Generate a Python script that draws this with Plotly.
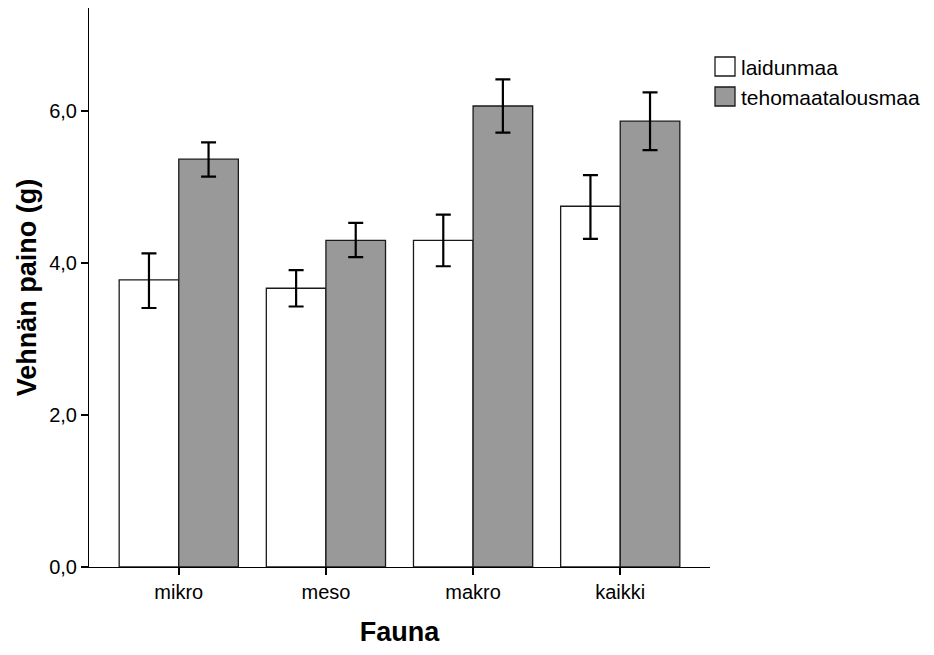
import plotly.graph_objects as go

categories = ["mikro", "meso", "makro", "kaikki"]
series_names = ["laidunmaa", "tehomaatalousmaa"]
laidunmaa = [3.78, 3.67, 4.30, 4.75]
laidunmaa_upper = [4.13, 3.91, 4.64, 5.16]
laidunmaa_lower = [3.41, 3.43, 3.96, 4.32]
tehomaa = [5.37, 4.30, 6.07, 5.87]
tehomaa_upper = [5.59, 4.53, 6.42, 6.25]
tehomaa_lower = [5.14, 4.08, 5.72, 5.49]
y_ticks = [0, 2, 4, 6]

FONT = "Arial, Liberation Sans, sans-serif"
colors = ["#ffffff", "#999999"]

fig = go.Figure()
for name, vals, up, lo, col in [
    (series_names[0], laidunmaa, laidunmaa_upper, laidunmaa_lower, colors[0]),
    (series_names[1], tehomaa, tehomaa_upper, tehomaa_lower, colors[1]),
]:
    fig.add_trace(go.Bar(
        x=categories, y=vals, name=name,
        marker=dict(color=col, line=dict(color="#1a1a1a", width=1.3)),
        error_y=dict(type="data", symmetric=False,
                     array=[u - v for u, v in zip(up, vals)],
                     arrayminus=[v - l for v, l in zip(vals, lo)],
                     color="black", thickness=2.2, width=7.5),
        showlegend=False,
    ))

# manual legend (plot area spans page x 89..710, y 8..567)
PX0, PW, PY1, PH = 89, 621, 567, 559
leg_items = [(series_names[0], colors[0], 57), (series_names[1], colors[1], 87)]
for name, col, top in leg_items:
    fig.add_shape(type="rect", xref="paper", yref="paper",
                  x0=(715 - PX0) / PW, x1=(735 - PX0) / PW,
                  y0=(PY1 - top) / PH, y1=(PY1 - (top + 19)) / PH,
                  fillcolor=col, line=dict(color="#1a1a1a", width=1.3))
    fig.add_annotation(text=name, xref="paper", yref="paper",
                       x=(739 - PX0) / PW, y=(PY1 - (top + 10)) / PH,
                       xanchor="left", yanchor="middle", showarrow=False,
                       font=dict(family=FONT, size=21, color="black"))

fig.update_layout(
    width=934, height=655,
    margin=dict(l=81, r=232, t=0, b=96),
    plot_bgcolor="white", paper_bgcolor="white",
    barmode="group", bargap=0.19, bargroupgap=0,
    separators=",.",
    font=dict(family=FONT, size=20, color="black"),
)
fig.update_xaxes(
    range=[-0.61, 3.61],
    showline=True, linecolor="black", linewidth=1,
    ticks="outside", ticklen=7, tickcolor="black", tickwidth=1.5,
    tickfont=dict(size=20),
    title=dict(text="<b>Fauna</b>", font=dict(size=27), standoff=20),
    showgrid=False, zeroline=False,
)
fig.update_yaxes(
    range=[0, 7.36],
    tickvals=y_ticks, tickformat=".1f",
    showline=True, linecolor="black", linewidth=1,
    ticks="outside", ticklen=7, tickcolor="black", tickwidth=1.5,
    tickfont=dict(size=20),
    title=dict(text="<b>Vehnän paino (g)</b>", font=dict(size=27), standoff=4),
    showgrid=False, zeroline=False,
)

fig.write_html("out.html")
